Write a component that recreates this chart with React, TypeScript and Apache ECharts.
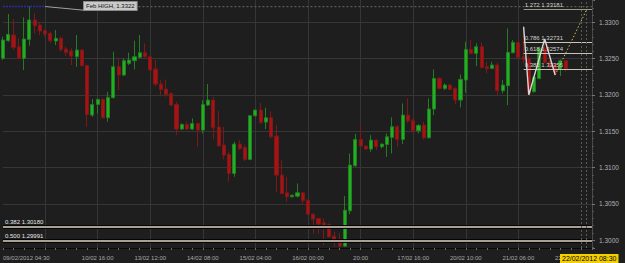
import React, { useEffect, useRef } from "react";
import * as echarts from "echarts";

// [open, close, low, high] – EURUSD-like H2 candles
const candles: number[][] = [
  [1.32505, 1.32758, 1.32482, 1.32804],
  [1.32749, 1.32836, 1.32735, 1.33117],
  [1.32827, 1.32657, 1.3262, 1.33048],
  [1.32666, 1.32505, 1.32491, 1.32781],
  [1.32505, 1.32772, 1.32344, 1.33071],
  [1.32767, 1.33034, 1.3268, 1.33218],
  [1.33034, 1.32956, 1.3285, 1.33126],
  [1.32965, 1.32882, 1.32827, 1.32997],
  [1.32887, 1.32841, 1.32804, 1.32905],
  [1.3285, 1.32749, 1.32721, 1.32873],
  [1.32744, 1.32781, 1.32689, 1.32896],
  [1.32781, 1.32629, 1.32597, 1.32804],
  [1.32634, 1.32588, 1.32537, 1.32666],
  [1.32606, 1.32537, 1.32413, 1.32643],
  [1.32528, 1.3262, 1.3239, 1.32827],
  [1.3262, 1.32404, 1.3239, 1.32629],
  [1.32408, 1.31732, 1.31562, 1.32413],
  [1.31723, 1.3187, 1.317, 1.31944],
  [1.3187, 1.31939, 1.31746, 1.31953],
  [1.31939, 1.31686, 1.31677, 1.31953],
  [1.31686, 1.31967, 1.31631, 1.32045],
  [1.31962, 1.3239, 1.31953, 1.32597],
  [1.3239, 1.32275, 1.32068, 1.32505],
  [1.32275, 1.32473, 1.32261, 1.32505],
  [1.32436, 1.32482, 1.32413, 1.32583],
  [1.32473, 1.32528, 1.32353, 1.32749],
  [1.32519, 1.32583, 1.32505, 1.32827],
  [1.32583, 1.32528, 1.32505, 1.32712],
  [1.32528, 1.32344, 1.32335, 1.32537],
  [1.32358, 1.32151, 1.32123, 1.32482],
  [1.32151, 1.32077, 1.31999, 1.32206],
  [1.32082, 1.32008, 1.31976, 1.32215],
  [1.32022, 1.31861, 1.31847, 1.32031],
  [1.3187, 1.3153, 1.31447, 1.31907],
  [1.3153, 1.31594, 1.31516, 1.31608],
  [1.31594, 1.3153, 1.31516, 1.31631],
  [1.3153, 1.31608, 1.31516, 1.31677],
  [1.31608, 1.31516, 1.31286, 1.31617],
  [1.31516, 1.3187, 1.3147, 1.3193],
  [1.31861, 1.3193, 1.31847, 1.32151],
  [1.3193, 1.31548, 1.31387, 1.31976],
  [1.31557, 1.313, 1.31286, 1.31778],
  [1.31309, 1.31171, 1.31111, 1.31562],
  [1.3118, 1.30918, 1.30803, 1.31217],
  [1.30918, 1.31323, 1.30872, 1.31355],
  [1.31323, 1.31263, 1.3124, 1.31378],
  [1.31277, 1.31111, 1.31088, 1.31309],
  [1.31111, 1.31714, 1.31102, 1.31723],
  [1.31714, 1.31792, 1.317, 1.31801],
  [1.31792, 1.31622, 1.31599, 1.31893],
  [1.31626, 1.31686, 1.3153, 1.31824],
  [1.31686, 1.31424, 1.31401, 1.31769],
  [1.31433, 1.30895, 1.30665, 1.31585],
  [1.30895, 1.30642, 1.30633, 1.31102],
  [1.30651, 1.30596, 1.30527, 1.30872],
  [1.30596, 1.30619, 1.30587, 1.30622],
  [1.30605, 1.30651, 1.30587, 1.3078],
  [1.30651, 1.30541, 1.30481, 1.3066],
  [1.3055, 1.30357, 1.30343, 1.30559],
  [1.30357, 1.30288, 1.3009, 1.30366],
  [1.30297, 1.30219, 1.3009, 1.30306],
  [1.30237, 1.30196, 1.29929, 1.30297],
  [1.30214, 1.30044, 1.30035, 1.30228],
  [1.30053, 1.29975, 1.29906, 1.30113],
  [1.29975, 1.29915, 1.29897, 1.3009],
  [1.29915, 1.30412, 1.29906, 1.30605],
  [1.30403, 1.31033, 1.30357, 1.31194],
  [1.31024, 1.31387, 1.3101, 1.31461],
  [1.31387, 1.31295, 1.31286, 1.31585],
  [1.31295, 1.31254, 1.31249, 1.31304],
  [1.31254, 1.31378, 1.31217, 1.31447],
  [1.31378, 1.31286, 1.3124, 1.31387],
  [1.31286, 1.31323, 1.31263, 1.31332],
  [1.31318, 1.31424, 1.31148, 1.3147],
  [1.31415, 1.31562, 1.31194, 1.31691],
  [1.31562, 1.31387, 1.31286, 1.31585],
  [1.31387, 1.31723, 1.31323, 1.31884],
  [1.31723, 1.3164, 1.31617, 1.31953],
  [1.31645, 1.31507, 1.31479, 1.31668],
  [1.31507, 1.3158, 1.3147, 1.31599],
  [1.31585, 1.3141, 1.31387, 1.31631],
  [1.3141, 1.31806, 1.31401, 1.31953],
  [1.31806, 1.32229, 1.31723, 1.32353],
  [1.32229, 1.32091, 1.32077, 1.32243],
  [1.32091, 1.32137, 1.32068, 1.3216],
  [1.32137, 1.32077, 1.32068, 1.32151],
  [1.32091, 1.3193, 1.31875, 1.32105],
  [1.3193, 1.32215, 1.31829, 1.32284],
  [1.32206, 1.32629, 1.32031, 1.32735],
  [1.32629, 1.32574, 1.32565, 1.32758],
  [1.32574, 1.32666, 1.32399, 1.32712],
  [1.32666, 1.32381, 1.32367, 1.32726],
  [1.3239, 1.32367, 1.32298, 1.32459],
  [1.32367, 1.32413, 1.32358, 1.32459],
  [1.32413, 1.32059, 1.31999, 1.32445],
  [1.32059, 1.32137, 1.32022, 1.32206],
  [1.32128, 1.32588, 1.31861, 1.32919],
  [1.32583, 1.32726, 1.32574, 1.32758],
  [1.32726, 1.32519, 1.32505, 1.32758],
  [1.32528, 1.32491, 1.32436, 1.32942],
  [1.32505, 1.32022, 1.31999, 1.32528],
  [1.32045, 1.32243, 1.32031, 1.32261],
  [1.32229, 1.32643, 1.32215, 1.32666],
  [1.32643, 1.3245, 1.32436, 1.32772],
  [1.32459, 1.3239, 1.32367, 1.32482],
  [1.32413, 1.32307, 1.32275, 1.32436],
  [1.32353, 1.32473, 1.32261, 1.32491],
  [1.32473, 1.32362, 1.32321, 1.32482],
];

const SLOT_COUNT = 113; // bars + empty chart shift on the right
const categories: string[] = Array.from({ length: SLOT_COUNT }, (_, i) => String(i));

const timeTickIndex = [0, 18, 28, 38, 48, 58, 68, 78, 88, 98, 108];
const timeTickLabel = [
  "09/02/2012 04:30",
  "10/02 16:00",
  "13/02 12:00",
  "14/02 08:00",
  "15/02 04:00",
  "16/02 00:00",
  "20:00",
  "17/02 16:00",
  "20/02 10:00",
  "21/02 06:00",
  "22/02 02:00",
];

const fibTopLevels = ["1.272", "0.786", "0.618", "0.382"];
const fibTopPrices = [1.33181, 1.32731, 1.32574, 1.32355];
const fibLowLevels = ["0.382", "0.500"];
const fibLowPrices = [1.3018, 1.29991];

const zigzag = [
  [99, 1.32942],
  [100, 1.32001],
  [103, 1.32772],
  [105, 1.32275],
];
const projection = [
  [105, 1.32275],
  [111, 1.33181],
];

const febHighPrice = 1.3322;
const febHighLabel = "Feb HIGH, 1.3322";
const yellowPrice = 1.33213;
const bluePrice = 1.32362;
const currentTimeLabel = "22/02/2012 08:30";

const FONT = "Liberation Sans, Arial, sans-serif";

export default function App() {
  const ref = useRef<HTMLDivElement>(null);

  useEffect(() => {
    if (!ref.current) return;
    const chart = echarts.init(ref.current, null, { renderer: "svg" });
    const labelMap = new Map<number, string>();
    timeTickIndex.forEach((idx, k) => labelMap.set(idx, timeTickLabel[k]));

    const lineSeries = (data: number[][], color: string, width: number, type: any, z = 5) => ({
      type: "line",
      data,
      symbol: "none",
      silent: true,
      animation: false,
      z,
      lineStyle: { color, width, type },
    });

    const option: any = {
      animation: false,
      backgroundColor: "#1e1e1e",
      grid: { left: 0, right: 33, top: 0, bottom: 15, containLabel: false },
      xAxis: {
        type: "category",
        data: categories,
        boundaryGap: false,
        axisLine: { show: true, lineStyle: { color: "#0a0a0a", width: 1 } },
        axisTick: {
          show: true,
          interval: (i: number) => i % 2 === 0,
          length: 2,
          lineStyle: { color: "#6a6a6a" },
        },
        axisLabel: {
          interval: (i: number) => labelMap.has(i),
          formatter: (_v: string, i: number) => labelMap.get(i) ?? "",
          color: "#a8a8a8",
          fontSize: 6,
          fontFamily: FONT,
          margin: 7,
          alignMinLabel: "left",
          hideOverlap: false,
        },
        splitLine: {
          show: true,
          interval: (i: number) => i % 10 === 8 && i < 100,
          lineStyle: { color: "#363636", width: 1 },
        },
      },
      yAxis: {
        type: "value",
        position: "right",
        min: 1.2989,
        max: 1.3331,
        minInterval: 0.005,
        maxInterval: 0.005,
        axisLine: { show: true, lineStyle: { color: "#4a4a4a" } },
        axisTick: { show: true, length: 3, lineStyle: { color: "#777" } },
        minorTick: { show: true, splitNumber: 5, length: 2, lineStyle: { color: "#555" } },
        axisLabel: {
          formatter: (v: number) => v.toFixed(4),
          color: "#b0b0b0",
          fontSize: 6.5,
          fontFamily: FONT,
          margin: 7,
          showMinLabel: false,
          showMaxLabel: false,
        },
        splitLine: {
          show: true,
          showMinLine: false,
          showMaxLine: false,
          lineStyle: { color: "#363636", width: 1 },
        },
      },
      series: [
        {
          type: "candlestick",
          data: candles,
          barWidth: 3.6,
          z: 2,
          itemStyle: {
            color: "#1fb21f",
            borderColor: "#237d23",
            color0: "#a81212",
            borderColor0: "#7e1818",
            borderWidth: 1,
          },
        },
        // Feb high horizontal + callout
        lineSeries([[25, febHighPrice], [112, febHighPrice]], "#5a5a5a", 1.2, [2, 2], 3),
        lineSeries([[0, febHighPrice], [8, febHighPrice]], "#2a2ab0", 1.6, [2, 1], 4),
        lineSeries([[8, febHighPrice], [16, 1.33165]], "#a0a0a0", 1, "solid", 4),
        // zigzag and projection
        lineSeries(zigzag, "#d6d6d6", 1.4, "solid", 6),
        lineSeries(projection, "#c8c060", 1, [1.5, 2], 6),
        // top fibonacci levels
        {
          type: "line",
          data: [],
          silent: true,
          z: 5,
          markLine: {
            symbol: ["none", "none"],
            silent: true,
            animation: false,
            data: fibTopPrices.map((p, i) => [
              {
                coord: ["99", p],
                lineStyle: { color: i === 0 ? "#9c9884" : "#c9c5b4", width: 1, type: "solid" },
                label: {
                  show: true,
                  position: "insideStartTop",
                  formatter: `${fibTopLevels[i]} ${p.toFixed(5)}`,
                  color: "#d0d0d0",
                  fontSize: 6,
                  fontFamily: FONT,
                  distance: 1,
                },
              },
              { coord: ["112", p] },
            ]),
          },
        },
        // lower fibonacci levels (dark halo + light line)
        {
          type: "line",
          data: [],
          silent: true,
          z: 5,
          markLine: {
            symbol: ["none", "none"],
            silent: true,
            animation: false,
            data: [
              ...fibLowPrices.map((p) => [
                { coord: ["0", p], lineStyle: { color: "#050505", width: 4, type: "solid" }, label: { show: false } },
                { coord: ["112", p] },
              ]),
              ...fibLowPrices.map((p, i) => [
                {
                  coord: ["0", p],
                  lineStyle: { color: "#dcd6c2", width: 1.6, type: "solid" },
                  label: {
                    show: true,
                    position: "insideStartTop",
                    formatter: `${fibLowLevels[i]} ${p.toFixed(5)}`,
                    color: "#e6e6e6",
                    fontSize: 6,
                    fontFamily: FONT,
                    distance: 2,
                  },
                },
                { coord: ["112", p] },
              ]),
            ],
          },
        },
        // vertical dashed markers + price boxes on the axis
        {
          type: "line",
          data: [],
          silent: true,
          z: 7,
          markLine: {
            symbol: ["none", "none"],
            silent: true,
            animation: false,
            data: [
              { xAxis: "110", lineStyle: { color: "#5a5a5a", width: 1, type: [2, 2] }, label: { show: false } },
              { xAxis: "111", lineStyle: { color: "#5a5a5a", width: 1, type: [2, 2] }, label: { show: false } },
              {
                yAxis: yellowPrice,
                lineStyle: { opacity: 0 },
                label: {
                  show: true,
                  position: "end",
                  formatter: yellowPrice.toFixed(5),
                  backgroundColor: "#f2c80f",
                  color: "#000",
                  padding: [1, 2, 1, 2],
                  fontSize: 6.5,
                  fontFamily: FONT,
                  distance: 6,
                },
              },
              {
                yAxis: bluePrice,
                lineStyle: { opacity: 0 },
                label: {
                  show: true,
                  position: "end",
                  formatter: bluePrice.toFixed(5),
                  backgroundColor: "#66a6f2",
                  color: "#000",
                  padding: [1, 2, 1, 2],
                  fontSize: 6.5,
                  fontFamily: FONT,
                  distance: 6,
                },
              },
            ],
          },
        },
      ],
      graphic: [
        {
          type: "text",
          x: 84,
          y: 2,
          z: 10,
          style: {
            text: febHighLabel,
            fill: "#111",
            font: `6px ${FONT}`,
            backgroundColor: "#c9c9c9",
            borderColor: "#8a8a8a",
            borderWidth: 1,
            padding: [1, 2, 1, 2],
          },
        },
        {
          type: "text",
          x: 560,
          y: 254,
          z: 10,
          style: {
            text: currentTimeLabel,
            fill: "#000",
            font: `7px ${FONT}`,
            backgroundColor: "#f5d000",
            padding: [1, 2, 1, 2],
          },
        },
      ],
    };

    chart.setOption(option);
    return () => chart.dispose();
  }, []);

  return (
    <div
      ref={ref}
      style={{ position: "fixed", left: 0, top: 0, width: 625, height: 263 }}
    />
  );
}
